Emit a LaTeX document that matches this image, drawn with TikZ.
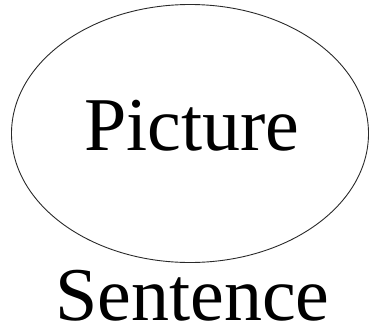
\documentclass[tikz,border=0pt]{standalone}
\usepackage{fontspec}
\setmainfont{Liberation Serif}
\usetikzlibrary{shapes.geometric}
\definecolor{ovalgray}{HTML}{2A2A2A}

\begin{document}
\begin{tikzpicture}[x=1pt,y=1pt,
  oval/.style={ellipse,draw=ovalgray,line width=0.9pt,inner sep=0pt,
    minimum width=357pt,minimum height=258pt},
  word/.style={font=\fontsize{76}{80}\selectfont,inner sep=0pt,anchor=base}]
\useasboundingbox (0,0) rectangle (369,-330);

% Ellipse with its word
\node[oval] (pic) at (190,-133.5) {};
\node[word] (pictxt) at (192,-150) {Picture};

% Word under the ellipse
\node[word] (sent) at (192.5,-320.5) {Sentence};

\end{tikzpicture}
\end{document}
